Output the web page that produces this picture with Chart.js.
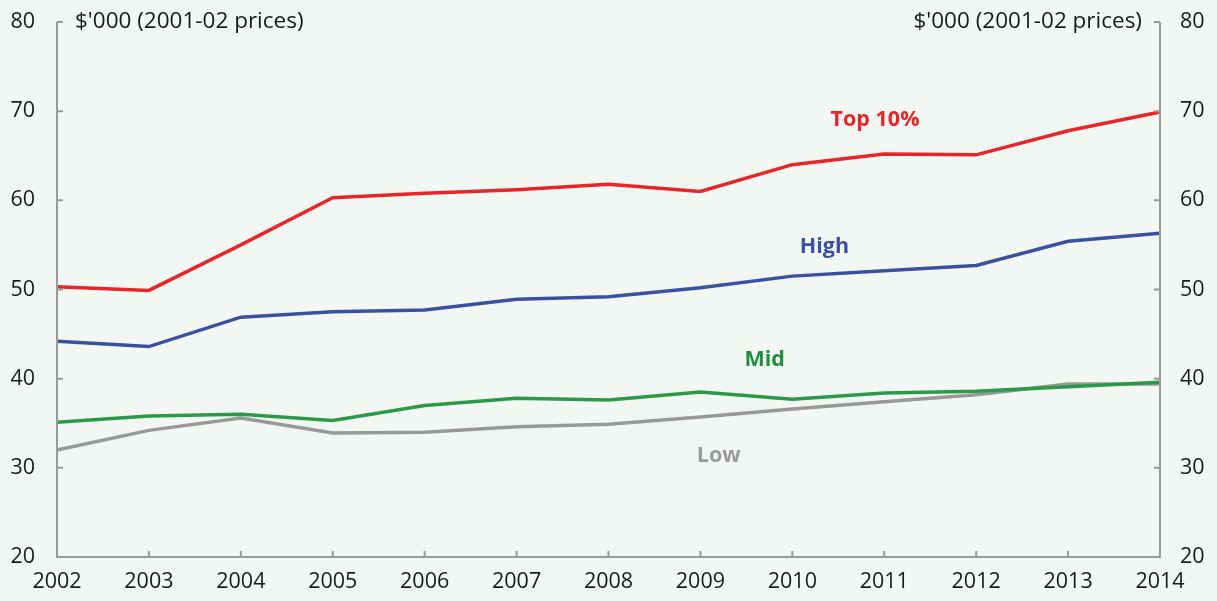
<!DOCTYPE html>
<html>
<head>
<meta charset="utf-8">
<script src="https://cdn.jsdelivr.net/npm/chart.js@4"></script>
<style>
    html, body { margin: 0; padding: 0; background: #f2f7f3; }
    #wrap { width: 1217px; height: 601px; }
</style>
</head>
<body>
<div id="wrap"><canvas id="incomeChart"></canvas></div>
<script>
// Real income by group, $'000 in 2001-02 prices
const years = ["2002", "2003", "2004", "2005", "2006", "2007", "2008", "2009", "2010", "2011", "2012", "2013", "2014"];
const top10 = [50.3, 49.9, 55.0, 60.3, 60.8, 61.2, 61.8, 61.0, 64.0, 65.2, 65.1, 67.8, 69.9];
const high = [44.2, 43.6, 46.9, 47.5, 47.7, 48.9, 49.2, 50.2, 51.5, 52.1, 52.7, 55.4, 56.3];
const mid = [35.1, 35.8, 36.0, 35.3, 37.0, 37.8, 37.6, 38.5, 37.7, 38.4, 38.6, 39.1, 39.6];
const low = [32.0, 34.2, 35.6, 33.9, 34.0, 34.6, 34.9, 35.7, 36.6, 37.4, 38.2, 39.4, 39.4];
const yTicks = [20, 30, 40, 50, 60, 70, 80];
const unitLabel = "$'000 (2001-02 prices)";

const FONT = "'Open Sans', 'Noto Sans', sans-serif";
const AXIS = "#9a9a9a";

// series name labels, placed by category index and value
const seriesLabels = [
    { text: "Top 10%", color: "#e8262a", at: 8.9, value: 69.0 },
    { text: "High", color: "#3a50a2", at: 8.35, value: 54.8 },
    { text: "Mid", color: "#238c42", at: 7.7, value: 42.1 },
    { text: "Low", color: "#999999", at: 7.2, value: 31.3 }
];

function line(label, data, color) {
    return {
        label: label,
        data: data,
        borderColor: color,
        backgroundColor: color,
        borderWidth: 3.5,
        pointRadius: 0,
        tension: 0,
        yAxisID: "y"
    };
}

// axis lines with inward ticks, unit captions and series labels
const decorations = {
    id: "decorations",
    afterDraw(chart) {
        const ctx = chart.ctx;
        const a = chart.chartArea;
        const x = chart.scales.x;
        const y = chart.scales.y;

        ctx.save();
        ctx.strokeStyle = AXIS;
        ctx.lineWidth = 2;
        ctx.beginPath();
        ctx.moveTo(a.left, a.top);
        ctx.lineTo(a.left, a.bottom);
        ctx.lineTo(a.right, a.bottom);
        ctx.lineTo(a.right, a.top);
        yTicks.forEach(function (v) {
            const py = y.getPixelForValue(v);
            ctx.moveTo(a.left, py);
            ctx.lineTo(a.left + 6, py);
            ctx.moveTo(a.right, py);
            ctx.lineTo(a.right - 6, py);
        });
        years.forEach(function (yr, i) {
            const px = x.getPixelForValue(i);
            ctx.moveTo(px, a.bottom);
            ctx.lineTo(px, a.bottom - 6);
        });
        ctx.stroke();

        ctx.fillStyle = "#1a1a1a";
        ctx.font = "22.5px " + FONT;
        ctx.textBaseline = "middle";
        ctx.textAlign = "left";
        ctx.fillText(unitLabel, a.left + 18, y.getPixelForValue(80));
        ctx.textAlign = "right";
        ctx.fillText(unitLabel, a.right - 18, y.getPixelForValue(80));

        ctx.font = "bold 21.5px " + FONT;
        ctx.textAlign = "center";
        seriesLabels.forEach(function (s) {
            ctx.fillStyle = s.color;
            const px = x.left + (x.right - x.left) * s.at / (years.length - 1);
            ctx.fillText(s.text, px, y.getPixelForValue(s.value));
        });
        ctx.restore();
    }
};

const tickFont = { family: FONT, size: 21.5 };

// fixed side width, no extra room for half-height tick labels
function fitSide(scale) {
    scale.width = 57;
    scale.paddingTop = 0;
    scale.paddingBottom = 0;
}

new Chart(document.getElementById("incomeChart"), {
    type: "line",
    data: {
        labels: years,
        datasets: [
            line("Top 10%", top10, "#e8262a"),
            line("High", high, "#3a50a2"),
            line("Mid", mid, "#2b9a48"),
            line("Low", low, "#999999")
        ]
    },
    options: {
        responsive: true,
        maintainAspectRatio: false,
        animation: false,
        layout: { padding: { top: 22, left: 0, right: 0, bottom: 0 } },
        plugins: {
            legend: { display: false },
            tooltip: { enabled: false }
        },
        scales: {
            x: {
                offset: false,
                grid: { display: false },
                border: { display: false },
                ticks: { color: "#1a1a1a", font: tickFont, padding: 4, maxRotation: 0, autoSkip: false },
                afterFit(scale) { scale.height = 44; }
            },
            y: {
                position: "left",
                min: 20,
                max: 80,
                grid: { display: false },
                border: { display: false },
                ticks: { stepSize: 10, color: "#1a1a1a", font: tickFont, padding: 14 },
                afterFit: fitSide
            },
            y2: {
                position: "right",
                min: 20,
                max: 80,
                grid: { display: false },
                border: { display: false },
                ticks: { stepSize: 10, color: "#1a1a1a", font: tickFont, padding: 12 },
                afterFit: fitSide
            }
        }
    },
    plugins: [decorations]
});
</script>
</body>
</html>
